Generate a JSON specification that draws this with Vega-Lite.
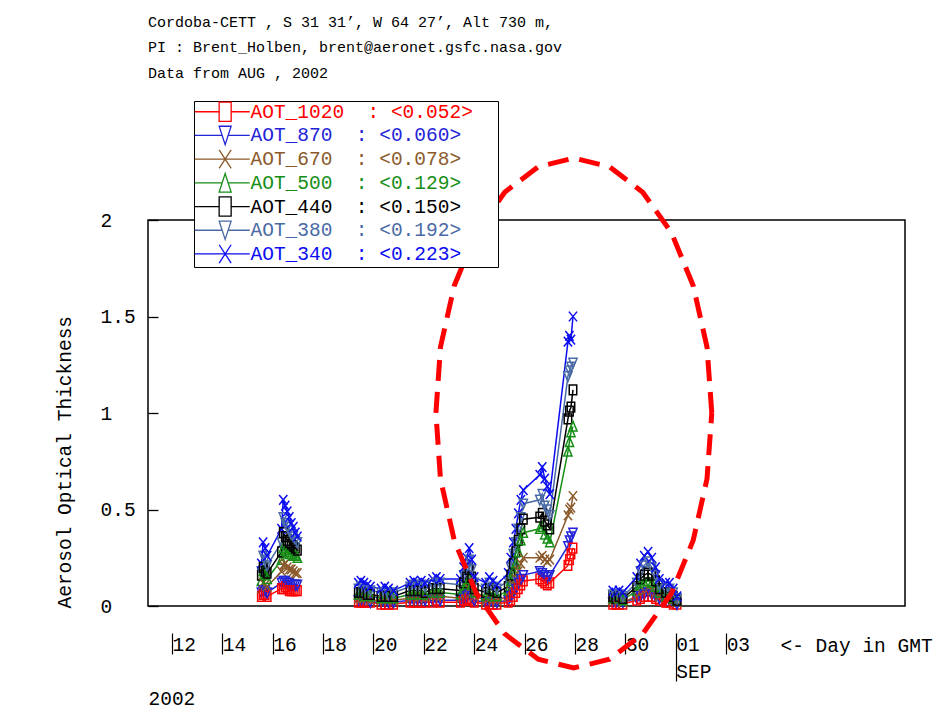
{
  "$schema": "https://vega.github.io/schema/vega-lite/v6.json",
  "width": 757,
  "height": 386,
  "autosize": {"type": "none"},
  "padding": {"left": 148, "top": 220, "right": 38, "bottom": 106},
  "background": "white",
  "config": {
    "view": {"stroke": "black", "strokeWidth": 1.5},
    "font": "Liberation Mono",
    "axis": {
      "labelFont": "Liberation Mono", "titleFont": "Liberation Mono",
      "labelColor": "black", "titleColor": "black",
      "labelFontSize": 19.5, "titleFontSize": 19.5, "titleFontWeight": "normal",
      "grid": false, "domain": false, "labelFlush": false, "labelOverlap": false
    }
  },
  "title": {
    "text": ["Cordoba-CETT , S 31 31’, W 64 27’, Alt 730 m,", "PI : Brent_Holben, brent@aeronet.gsfc.nasa.gov", "Data from AUG , 2002"],
    "anchor": "start", "frame": "group", "font": "Liberation Mono", "fontSize": 15,
    "fontWeight": "normal", "color": "black", "lineHeight": 25.5, "offset": 20
  },
  "datasets": {
    "aot": [
      {"t": 15.55, "seg": 1, "AOT_1020": 0.05, "AOT_870": 0.07, "AOT_670": 0.09, "AOT_500": 0.13, "AOT_440": 0.16, "AOT_380": 0.18, "AOT_340": 0.22},
      {"t": 15.62, "seg": 1, "AOT_1020": 0.06, "AOT_870": 0.08, "AOT_670": 0.12, "AOT_500": 0.18, "AOT_440": 0.20, "AOT_380": 0.26, "AOT_340": 0.33},
      {"t": 15.70, "seg": 1, "AOT_1020": 0.06, "AOT_870": 0.08, "AOT_670": 0.11, "AOT_500": 0.16, "AOT_440": 0.18, "AOT_380": 0.24, "AOT_340": 0.30},
      {"t": 15.78, "seg": 1, "AOT_1020": 0.05, "AOT_870": 0.07, "AOT_670": 0.10, "AOT_500": 0.14, "AOT_440": 0.17, "AOT_380": 0.21, "AOT_340": 0.26},
      {"t": 16.35, "seg": 1, "AOT_1020": 0.09, "AOT_870": 0.12, "AOT_670": 0.18, "AOT_500": 0.24, "AOT_440": 0.28, "AOT_380": 0.33, "AOT_340": 0.40},
      {"t": 16.42, "seg": 1, "AOT_1020": 0.09, "AOT_870": 0.13, "AOT_670": 0.21, "AOT_500": 0.30, "AOT_440": 0.38, "AOT_380": 0.46, "AOT_340": 0.55},
      {"t": 16.50, "seg": 1, "AOT_1020": 0.10, "AOT_870": 0.13, "AOT_670": 0.22, "AOT_500": 0.29, "AOT_440": 0.36, "AOT_380": 0.43, "AOT_340": 0.52},
      {"t": 16.58, "seg": 1, "AOT_1020": 0.09, "AOT_870": 0.12, "AOT_670": 0.20, "AOT_500": 0.28, "AOT_440": 0.34, "AOT_380": 0.41, "AOT_340": 0.49},
      {"t": 16.66, "seg": 1, "AOT_1020": 0.08, "AOT_870": 0.12, "AOT_670": 0.19, "AOT_500": 0.27, "AOT_440": 0.33, "AOT_380": 0.39, "AOT_340": 0.46},
      {"t": 16.74, "seg": 1, "AOT_1020": 0.08, "AOT_870": 0.11, "AOT_670": 0.19, "AOT_500": 0.27, "AOT_440": 0.32, "AOT_380": 0.37, "AOT_340": 0.43},
      {"t": 16.82, "seg": 1, "AOT_1020": 0.08, "AOT_870": 0.11, "AOT_670": 0.18, "AOT_500": 0.26, "AOT_440": 0.31, "AOT_380": 0.36, "AOT_340": 0.41},
      {"t": 16.90, "seg": 1, "AOT_1020": 0.08, "AOT_870": 0.11, "AOT_670": 0.17, "AOT_500": 0.26, "AOT_440": 0.30, "AOT_380": 0.34, "AOT_340": 0.38},
      {"t": 16.98, "seg": 1, "AOT_1020": 0.08, "AOT_870": 0.11, "AOT_670": 0.17, "AOT_500": 0.25, "AOT_440": 0.29, "AOT_380": 0.33, "AOT_340": 0.36},
      {"t": 19.40, "seg": 2, "AOT_1020": 0.02, "AOT_870": 0.03, "AOT_670": 0.04, "AOT_500": 0.06, "AOT_440": 0.07, "AOT_380": 0.09, "AOT_340": 0.12},
      {"t": 19.50, "seg": 2, "AOT_1020": 0.02, "AOT_870": 0.03, "AOT_670": 0.04, "AOT_500": 0.06, "AOT_440": 0.07, "AOT_380": 0.10, "AOT_340": 0.13},
      {"t": 19.62, "seg": 2, "AOT_1020": 0.02, "AOT_870": 0.03, "AOT_670": 0.04, "AOT_500": 0.05, "AOT_440": 0.07, "AOT_380": 0.09, "AOT_340": 0.12},
      {"t": 19.75, "seg": 2, "AOT_1020": 0.02, "AOT_870": 0.03, "AOT_670": 0.04, "AOT_500": 0.05, "AOT_440": 0.06, "AOT_380": 0.08, "AOT_340": 0.11},
      {"t": 19.88, "seg": 2, "AOT_1020": 0.02, "AOT_870": 0.02, "AOT_670": 0.03, "AOT_500": 0.05, "AOT_440": 0.06, "AOT_380": 0.08, "AOT_340": 0.10},
      {"t": 20.30, "seg": 2, "AOT_1020": 0.01, "AOT_870": 0.02, "AOT_670": 0.03, "AOT_500": 0.04, "AOT_440": 0.05, "AOT_380": 0.07, "AOT_340": 0.09},
      {"t": 20.45, "seg": 2, "AOT_1020": 0.01, "AOT_870": 0.02, "AOT_670": 0.03, "AOT_500": 0.04, "AOT_440": 0.05, "AOT_380": 0.07, "AOT_340": 0.10},
      {"t": 20.60, "seg": 2, "AOT_1020": 0.01, "AOT_870": 0.02, "AOT_670": 0.03, "AOT_500": 0.04, "AOT_440": 0.05, "AOT_380": 0.06, "AOT_340": 0.09},
      {"t": 20.80, "seg": 2, "AOT_1020": 0.01, "AOT_870": 0.02, "AOT_670": 0.03, "AOT_500": 0.04, "AOT_440": 0.05, "AOT_380": 0.07, "AOT_340": 0.08},
      {"t": 21.45, "seg": 2, "AOT_1020": 0.02, "AOT_870": 0.03, "AOT_670": 0.04, "AOT_500": 0.06, "AOT_440": 0.08, "AOT_380": 0.10, "AOT_340": 0.12},
      {"t": 21.60, "seg": 2, "AOT_1020": 0.02, "AOT_870": 0.03, "AOT_670": 0.05, "AOT_500": 0.06, "AOT_440": 0.08, "AOT_380": 0.11, "AOT_340": 0.13},
      {"t": 21.75, "seg": 2, "AOT_1020": 0.02, "AOT_870": 0.03, "AOT_670": 0.04, "AOT_500": 0.06, "AOT_440": 0.08, "AOT_380": 0.10, "AOT_340": 0.12},
      {"t": 21.90, "seg": 2, "AOT_1020": 0.02, "AOT_870": 0.03, "AOT_670": 0.05, "AOT_500": 0.06, "AOT_440": 0.08, "AOT_380": 0.11, "AOT_340": 0.13},
      {"t": 22.05, "seg": 2, "AOT_1020": 0.02, "AOT_870": 0.03, "AOT_670": 0.04, "AOT_500": 0.06, "AOT_440": 0.07, "AOT_380": 0.10, "AOT_340": 0.12},
      {"t": 22.35, "seg": 2, "AOT_1020": 0.02, "AOT_870": 0.03, "AOT_670": 0.05, "AOT_500": 0.07, "AOT_440": 0.09, "AOT_380": 0.11, "AOT_340": 0.14},
      {"t": 22.50, "seg": 2, "AOT_1020": 0.03, "AOT_870": 0.04, "AOT_670": 0.05, "AOT_500": 0.07, "AOT_440": 0.09, "AOT_380": 0.12, "AOT_340": 0.15},
      {"t": 22.65, "seg": 2, "AOT_1020": 0.02, "AOT_870": 0.03, "AOT_670": 0.05, "AOT_500": 0.07, "AOT_440": 0.09, "AOT_380": 0.12, "AOT_340": 0.14},
      {"t": 23.45, "seg": 2, "AOT_1020": 0.02, "AOT_870": 0.03, "AOT_670": 0.04, "AOT_500": 0.06, "AOT_440": 0.08, "AOT_380": 0.11, "AOT_340": 0.14},
      {"t": 23.58, "seg": 2, "AOT_1020": 0.03, "AOT_870": 0.04, "AOT_670": 0.06, "AOT_500": 0.09, "AOT_440": 0.12, "AOT_380": 0.16, "AOT_340": 0.20},
      {"t": 23.70, "seg": 2, "AOT_1020": 0.03, "AOT_870": 0.05, "AOT_670": 0.07, "AOT_500": 0.11, "AOT_440": 0.15, "AOT_380": 0.20, "AOT_340": 0.25},
      {"t": 23.80, "seg": 2, "AOT_1020": 0.04, "AOT_870": 0.06, "AOT_670": 0.09, "AOT_500": 0.14, "AOT_440": 0.19, "AOT_380": 0.24, "AOT_340": 0.30},
      {"t": 23.90, "seg": 2, "AOT_1020": 0.03, "AOT_870": 0.05, "AOT_670": 0.07, "AOT_500": 0.11, "AOT_440": 0.15, "AOT_380": 0.19, "AOT_340": 0.24},
      {"t": 24.00, "seg": 2, "AOT_1020": 0.02, "AOT_870": 0.03, "AOT_670": 0.05, "AOT_500": 0.07, "AOT_440": 0.09, "AOT_380": 0.12, "AOT_340": 0.15},
      {"t": 24.45, "seg": 2, "AOT_1020": 0.01, "AOT_870": 0.02, "AOT_670": 0.03, "AOT_500": 0.05, "AOT_440": 0.07, "AOT_380": 0.09, "AOT_340": 0.12},
      {"t": 24.60, "seg": 2, "AOT_1020": 0.01, "AOT_870": 0.02, "AOT_670": 0.04, "AOT_500": 0.06, "AOT_440": 0.09, "AOT_380": 0.12, "AOT_340": 0.15},
      {"t": 24.75, "seg": 2, "AOT_1020": 0.01, "AOT_870": 0.02, "AOT_670": 0.03, "AOT_500": 0.05, "AOT_440": 0.08, "AOT_380": 0.10, "AOT_340": 0.13},
      {"t": 24.90, "seg": 2, "AOT_1020": 0.01, "AOT_870": 0.02, "AOT_670": 0.03, "AOT_500": 0.05, "AOT_440": 0.07, "AOT_380": 0.09, "AOT_340": 0.11},
      {"t": 25.35, "seg": 2, "AOT_1020": 0.02, "AOT_870": 0.03, "AOT_670": 0.05, "AOT_500": 0.08, "AOT_440": 0.10, "AOT_380": 0.13, "AOT_340": 0.17},
      {"t": 25.45, "seg": 2, "AOT_1020": 0.03, "AOT_870": 0.05, "AOT_670": 0.08, "AOT_500": 0.13, "AOT_440": 0.16, "AOT_380": 0.20, "AOT_340": 0.25},
      {"t": 25.55, "seg": 2, "AOT_1020": 0.05, "AOT_870": 0.07, "AOT_670": 0.11, "AOT_500": 0.18, "AOT_440": 0.22, "AOT_380": 0.27, "AOT_340": 0.33},
      {"t": 25.65, "seg": 2, "AOT_1020": 0.07, "AOT_870": 0.09, "AOT_670": 0.14, "AOT_500": 0.22, "AOT_440": 0.28, "AOT_380": 0.33, "AOT_340": 0.40},
      {"t": 25.75, "seg": 2, "AOT_1020": 0.09, "AOT_870": 0.12, "AOT_670": 0.18, "AOT_500": 0.28, "AOT_440": 0.34, "AOT_380": 0.40, "AOT_340": 0.48},
      {"t": 25.85, "seg": 2, "AOT_1020": 0.11, "AOT_870": 0.14, "AOT_670": 0.22, "AOT_500": 0.34, "AOT_440": 0.40, "AOT_380": 0.46, "AOT_340": 0.55},
      {"t": 25.95, "seg": 2, "AOT_1020": 0.13, "AOT_870": 0.16, "AOT_670": 0.25, "AOT_500": 0.38, "AOT_440": 0.45, "AOT_380": 0.53, "AOT_340": 0.60},
      {"t": 26.60, "seg": 2, "AOT_1020": 0.14, "AOT_870": 0.18, "AOT_670": 0.25, "AOT_500": 0.40, "AOT_440": 0.46, "AOT_380": 0.55, "AOT_340": 0.68},
      {"t": 26.70, "seg": 2, "AOT_1020": 0.13, "AOT_870": 0.17, "AOT_670": 0.26, "AOT_500": 0.41, "AOT_440": 0.48, "AOT_380": 0.58, "AOT_340": 0.72},
      {"t": 26.80, "seg": 2, "AOT_1020": 0.12, "AOT_870": 0.16, "AOT_670": 0.24, "AOT_500": 0.37, "AOT_440": 0.44, "AOT_380": 0.52, "AOT_340": 0.66},
      {"t": 26.90, "seg": 2, "AOT_1020": 0.11, "AOT_870": 0.15, "AOT_670": 0.23, "AOT_500": 0.35, "AOT_440": 0.42, "AOT_380": 0.50, "AOT_340": 0.62},
      {"t": 27.00, "seg": 2, "AOT_1020": 0.12, "AOT_870": 0.16, "AOT_670": 0.24, "AOT_500": 0.33, "AOT_440": 0.40, "AOT_380": 0.47, "AOT_340": 0.58},
      {"t": 27.72, "seg": 2, "AOT_1020": 0.21, "AOT_870": 0.31, "AOT_670": 0.47, "AOT_500": 0.80, "AOT_440": 0.97, "AOT_380": 1.19, "AOT_340": 1.37},
      {"t": 27.78, "seg": 2, "AOT_1020": 0.24, "AOT_870": 0.34, "AOT_670": 0.50, "AOT_500": 0.85, "AOT_440": 1.01, "AOT_380": 1.22, "AOT_340": 1.40},
      {"t": 27.84, "seg": 2, "AOT_1020": 0.27, "AOT_870": 0.36, "AOT_670": 0.51, "AOT_500": 0.90, "AOT_440": 1.03, "AOT_380": 1.24, "AOT_340": 1.38},
      {"t": 27.92, "seg": 2, "AOT_1020": 0.30, "AOT_870": 0.38, "AOT_670": 0.57, "AOT_500": 0.93, "AOT_440": 1.12, "AOT_380": 1.26, "AOT_340": 1.50},
      {"t": 29.50, "seg": 3, "AOT_1020": 0.01, "AOT_870": 0.02, "AOT_670": 0.03, "AOT_500": 0.04, "AOT_440": 0.05, "AOT_380": 0.06, "AOT_340": 0.08},
      {"t": 29.62, "seg": 3, "AOT_1020": 0.01, "AOT_870": 0.02, "AOT_670": 0.03, "AOT_500": 0.04, "AOT_440": 0.04, "AOT_380": 0.05, "AOT_340": 0.07},
      {"t": 29.75, "seg": 3, "AOT_1020": 0.01, "AOT_870": 0.02, "AOT_670": 0.03, "AOT_500": 0.04, "AOT_440": 0.05, "AOT_380": 0.06, "AOT_340": 0.08},
      {"t": 29.90, "seg": 3, "AOT_1020": 0.01, "AOT_870": 0.02, "AOT_670": 0.02, "AOT_500": 0.03, "AOT_440": 0.04, "AOT_380": 0.05, "AOT_340": 0.07},
      {"t": 30.45, "seg": 3, "AOT_1020": 0.03, "AOT_870": 0.04, "AOT_670": 0.05, "AOT_500": 0.08, "AOT_440": 0.10, "AOT_380": 0.12, "AOT_340": 0.15},
      {"t": 30.60, "seg": 3, "AOT_1020": 0.04, "AOT_870": 0.05, "AOT_670": 0.07, "AOT_500": 0.11, "AOT_440": 0.14, "AOT_380": 0.18, "AOT_340": 0.22},
      {"t": 30.75, "seg": 3, "AOT_1020": 0.05, "AOT_870": 0.06, "AOT_670": 0.08, "AOT_500": 0.12, "AOT_440": 0.16, "AOT_380": 0.21, "AOT_340": 0.26},
      {"t": 30.90, "seg": 3, "AOT_1020": 0.05, "AOT_870": 0.07, "AOT_670": 0.09, "AOT_500": 0.13, "AOT_440": 0.17, "AOT_380": 0.23, "AOT_340": 0.28},
      {"t": 31.05, "seg": 3, "AOT_1020": 0.05, "AOT_870": 0.06, "AOT_670": 0.08, "AOT_500": 0.12, "AOT_440": 0.16, "AOT_380": 0.20, "AOT_340": 0.25},
      {"t": 31.20, "seg": 3, "AOT_1020": 0.04, "AOT_870": 0.05, "AOT_670": 0.07, "AOT_500": 0.10, "AOT_440": 0.13, "AOT_380": 0.16, "AOT_340": 0.20},
      {"t": 31.35, "seg": 3, "AOT_1020": 0.03, "AOT_870": 0.04, "AOT_670": 0.05, "AOT_500": 0.07, "AOT_440": 0.09, "AOT_380": 0.11, "AOT_340": 0.14},
      {"t": 31.60, "seg": 3, "AOT_1020": 0.02, "AOT_870": 0.03, "AOT_670": 0.04, "AOT_500": 0.05, "AOT_440": 0.07, "AOT_380": 0.09, "AOT_340": 0.12},
      {"t": 31.75, "seg": 3, "AOT_1020": 0.02, "AOT_870": 0.03, "AOT_670": 0.04, "AOT_500": 0.05, "AOT_440": 0.07, "AOT_380": 0.09, "AOT_340": 0.12},
      {"t": 31.90, "seg": 3, "AOT_1020": 0.01, "AOT_870": 0.02, "AOT_670": 0.03, "AOT_500": 0.04, "AOT_440": 0.05, "AOT_380": 0.07, "AOT_340": 0.09},
      {"t": 32.05, "seg": 3, "AOT_1020": 0.01, "AOT_870": 0.01, "AOT_670": 0.02, "AOT_500": 0.03, "AOT_440": 0.03, "AOT_380": 0.04, "AOT_340": 0.05}
    ],
    "markers": [
      {"series": "AOT_1020", "mk": "sq"},
      {"series": "AOT_870", "mk": "td"},
      {"series": "AOT_670", "mk": "x"},
      {"series": "AOT_500", "mk": "tu"},
      {"series": "AOT_440", "mk": "sq"},
      {"series": "AOT_380", "mk": "td"},
      {"series": "AOT_340", "mk": "x"}
    ],
    "ellipse": [
      {"i": 0, "t": 33.43, "aot": 1.0},
      {"i": 1, "t": 33.24, "aot": 1.342},
      {"i": 2, "t": 32.69, "aot": 1.661},
      {"i": 3, "t": 31.83, "aot": 1.934},
      {"i": 4, "t": 30.69, "aot": 2.144},
      {"i": 5, "t": 29.37, "aot": 2.276},
      {"i": 6, "t": 27.95, "aot": 2.321},
      {"i": 7, "t": 26.54, "aot": 2.276},
      {"i": 8, "t": 25.21, "aot": 2.144},
      {"i": 9, "t": 24.08, "aot": 1.934},
      {"i": 10, "t": 23.21, "aot": 1.661},
      {"i": 11, "t": 22.66, "aot": 1.342},
      {"i": 12, "t": 22.48, "aot": 1.0},
      {"i": 13, "t": 22.66, "aot": 0.658},
      {"i": 14, "t": 23.21, "aot": 0.339},
      {"i": 15, "t": 24.08, "aot": 0.066},
      {"i": 16, "t": 25.21, "aot": -0.144},
      {"i": 17, "t": 26.54, "aot": -0.276},
      {"i": 18, "t": 27.95, "aot": -0.321},
      {"i": 19, "t": 29.37, "aot": -0.276},
      {"i": 20, "t": 30.69, "aot": -0.144},
      {"i": 21, "t": 31.83, "aot": 0.066},
      {"i": 22, "t": 32.69, "aot": 0.339},
      {"i": 23, "t": 33.24, "aot": 0.658},
      {"i": 24, "t": 33.43, "aot": 1.0}
    ]
  },
  "layer": [
    {
      "data": {"name": "aot"},
      "transform": [
        {"fold": ["AOT_1020", "AOT_870", "AOT_670", "AOT_500", "AOT_440", "AOT_380", "AOT_340"], "as": ["series", "aot"]},
        {"lookup": "series", "from": {"data": {"name": "markers"}, "key": "series", "fields": ["mk"]}}
      ],
      "layer": [
        {
          "mark": {"type": "line", "strokeWidth": 1.5},
          "encoding": {
            "x": {"field": "t", "type": "quantitative"},
            "y": {"field": "aot", "type": "quantitative"},
            "color": {"field": "series", "type": "nominal"},
            "detail": {"field": "seg", "type": "nominal"}
          }
        },
        {
          "mark": {"type": "point", "filled": false, "size": 56, "strokeWidth": 1.5, "opacity": 1},
          "encoding": {
            "x": {"field": "t", "type": "quantitative"},
            "y": {"field": "aot", "type": "quantitative"},
            "color": {"field": "series", "type": "nominal"},
            "shape": {
              "field": "mk", "type": "nominal", "legend": null,
              "scale": {
                "domain": ["sq", "td", "x", "tu"],
                "range": ["M-1,-1.3H1V1.3H-1Z", "M-1.1,-1.2H1.1L0,1.4Z", "M-1.1,-1.3L1.1,1.3M1.1,-1.3L-1.1,1.3", "M-1.1,1.2H1.1L0,-1.4Z"]
              }
            }
          }
        }
      ],
      "encoding": {
        "x": {
          "field": "t", "type": "quantitative",
          "scale": {"domain": [11.05, 41.1], "nice": false, "zero": false},
          "axis": {
            "values": [12, 14, 16, 18, 20, 22, 24, 26, 28, 30, 32, 34],
            "labelExpr": "datum.value <= 31 ? '' + datum.value : (datum.value == 32 ? ['01', 'SEP'] : '0' + (datum.value - 31))",
            "labelAlign": "left", "labelBaseline": "top", "labelPadding": 29, "labelDx": 3,
            "labelLineHeight": 27, "ticks": false,
            "title": "<- Day in GMT", "titleX": 632, "titleY": 39, "titleAlign": "left", "titleBaseline": "middle"
          }
        },
        "y": {
          "field": "aot", "type": "quantitative",
          "scale": {"domain": [0, 2], "nice": false, "zero": false},
          "axis": {
            "values": [0, 0.5, 1, 1.5, 2], "format": "~g",
            "labelAlign": "left", "labelBaseline": "middle", "labelPadding": 58,
            "ticks": true, "tickSize": -10, "tickColor": "black", "tickWidth": 1.3,
            "title": "Aerosol Optical Thickness", "titleX": -84, "titleY": 388, "titleAlign": "left", "titleBaseline": "middle", "titleAngle": -90
          }
        },
        "color": {
          "field": "series", "type": "nominal",
          "scale": {
            "domain": ["AOT_1020", "AOT_870", "AOT_670", "AOT_500", "AOT_440", "AOT_380", "AOT_340"],
            "range": ["#ff0000", "#2323d8", "#8b5a2b", "#168e16", "#000000", "#4a6aa5", "#0c0cf2"]
          },
          "legend": {
            "orient": "none", "legendX": 46, "legendY": -119, "title": null,
            "padding": 1, "fillColor": "white", "strokeColor": "black",
            "labelFont": "Liberation Mono", "labelFontSize": 19.5, "labelOffset": 36, "labelLimit": 500,
            "symbolSize": 64, "rowPadding": -1.3, "symbolStrokeWidth": 1.3,
            "labelExpr": "datum.label == 'AOT_1020' ? 'AOT_1020\u00a0\u00a0:\u00a0<0.052>\u00a0\u00a0\u200b' : datum.label == 'AOT_870' ? 'AOT_870\u00a0\u00a0:\u00a0<0.060>' : datum.label == 'AOT_670' ? 'AOT_670\u00a0\u00a0:\u00a0<0.078>' : datum.label == 'AOT_500' ? 'AOT_500\u00a0\u00a0:\u00a0<0.129>' : datum.label == 'AOT_440' ? 'AOT_440\u00a0\u00a0:\u00a0<0.150>' : datum.label == 'AOT_380' ? 'AOT_380\u00a0\u00a0:\u00a0<0.192>' : 'AOT_340\u00a0\u00a0:\u00a0<0.223>'",
            "encode": {
              "labels": {"update": {"fill": {"scale": "color", "field": "value"}}},
              "symbols": {
                "enter": {
                  "shape": {"signal": "datum.value == 'AOT_1020' || datum.value == 'AOT_440' ? 'M-2.5,0H3.6M6.6,0H11.25M3.6,-2.4H6.6V2.4H3.6Z' : (datum.value == 'AOT_870' || datum.value == 'AOT_380' ? 'M-2.5,0H4.35M5.85,0H11.25M3.6,-2.3H6.6L5.1,2.3Z' : (datum.value == 'AOT_500' ? 'M-2.5,0H4.35M5.85,0H11.25M3.6,2.3H6.6L5.1,-2.3Z' : 'M-2.5,0H11.25M3.6,-2.3L6.6,2.3M6.6,-2.3L3.6,2.3'))"}
                },
                "update": {
                  "shape": {"signal": "datum.value == 'AOT_1020' || datum.value == 'AOT_440' ? 'M-2.5,0H3.6M6.6,0H11.25M3.6,-2.4H6.6V2.4H3.6Z' : (datum.value == 'AOT_870' || datum.value == 'AOT_380' ? 'M-2.5,0H4.35M5.85,0H11.25M3.6,-2.3H6.6L5.1,2.3Z' : (datum.value == 'AOT_500' ? 'M-2.5,0H4.35M5.85,0H11.25M3.6,2.3H6.6L5.1,-2.3Z' : 'M-2.5,0H11.25M3.6,-2.3L6.6,2.3M6.6,-2.3L3.6,2.3'))"},
                  "fill": {"value": "transparent"},
                  "stroke": {"scale": "color", "field": "value"},
                  "strokeWidth": {"value": 1.3},
                  "opacity": {"value": 1}
                }
              }
            }
          }
        }
      }
    },
    {
      "data": {"name": "ellipse"},
      "mark": {"type": "line", "color": "#ff0000", "strokeWidth": 5, "strokeDash": [21, 11], "strokeCap": "butt", "clip": false},
      "encoding": {
        "x": {
          "field": "t", "type": "quantitative",
          "scale": {"domain": [11.05, 41.1], "nice": false, "zero": false},
          "axis": {
            "orient": "bottom", "offset": 27, "values": [12, 14, 16, 18, 20, 22, 24, 26, 28, 30, 32, 34],
            "labels": false, "domain": false, "ticks": true, "tickColor": "black", "tickWidth": 1.2,
            "tickSize": {"condition": {"test": "datum.value == 32", "value": 48}, "value": 21},
            "title": "2002", "titleX": 0, "titleY": 65, "titleAlign": "left", "titleBaseline": "middle"
          }
        },
        "y": {"field": "aot", "type": "quantitative", "scale": {"domain": [0, 2], "nice": false, "zero": false}},
        "order": {"field": "i", "type": "quantitative"}
      }
    }
  ],
  "resolve": {"axis": {"x": "independent"}}
}
